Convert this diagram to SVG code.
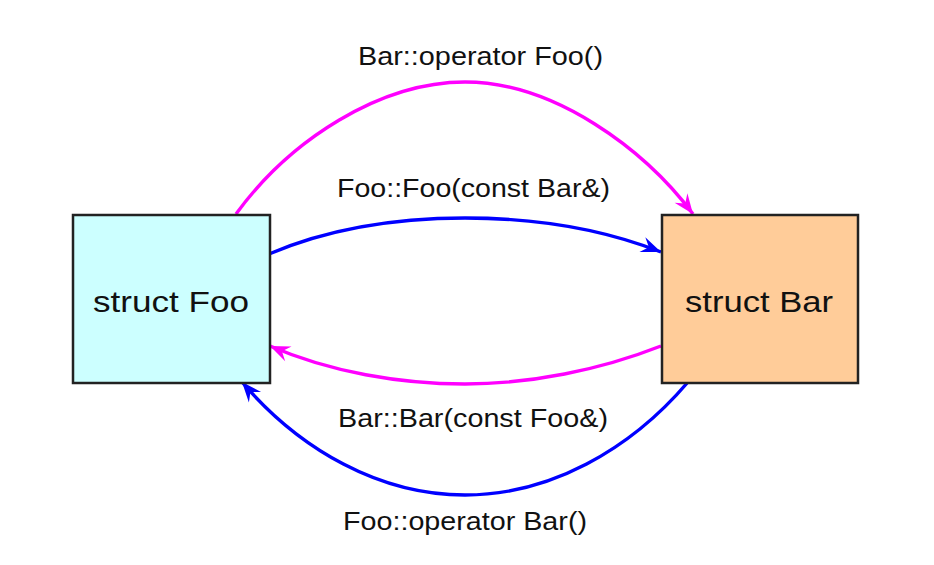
<svg xmlns="http://www.w3.org/2000/svg" width="934" height="565" viewBox="0 0 934 565">
<style>
.node rect{stroke:#222;stroke-width:2.5}
.nl{font-family:"Liberation Sans",Arial,sans-serif;font-size:30px;fill:#111}
.el{font-family:"Liberation Sans",Arial,sans-serif;font-size:26px;fill:#111}
.e{fill:none;stroke-width:3.4}
.m{stroke:#ff00ff}
.b{stroke:#0000ff}
</style>
<defs>
<marker id="am" viewBox="-21 -9 22 18" refX="0" refY="0" markerWidth="22" markerHeight="18" orient="auto" markerUnits="userSpaceOnUse"><path d="M0,0 L-20,-8 L-13,0 L-20,8 Z" fill="#ff00ff"/></marker>
<marker id="ab" viewBox="-21 -9 22 18" refX="0" refY="0" markerWidth="22" markerHeight="18" orient="auto" markerUnits="userSpaceOnUse"><path d="M0,0 L-20,-8 L-13,0 L-20,8 Z" fill="#0000ff"/></marker>
</defs>
<rect width="934" height="565" fill="#fff"/>
<g id="connectors">
<path class="e m" d="M236,214 C290,140 380,82 465,82 C555,82 645,150 693,214" marker-end="url(#am)"/>
<path class="e b" d="M269,254 C330,228 400,218 465,218 C530,218 600,228 661,252" marker-end="url(#ab)"/>
<path class="e m" d="M661,346 C600,370 530,384 465,384 C400,384 330,372 270,346" marker-end="url(#am)"/>
<path class="e b" d="M688,382 C630,450 550,495 465,495 C380,495 300,450 242,382" marker-end="url(#ab)"/>
<text class="el" x="358" y="65" textLength="245" lengthAdjust="spacingAndGlyphs">Bar::operator Foo()</text>
<text class="el" x="337" y="197" textLength="273" lengthAdjust="spacingAndGlyphs">Foo::Foo(const Bar&amp;)</text>
<text class="el" x="338" y="427" textLength="270" lengthAdjust="spacingAndGlyphs">Bar::Bar(const Foo&amp;)</text>
<text class="el" x="343" y="530" textLength="244" lengthAdjust="spacingAndGlyphs">Foo::operator Bar()</text>
</g>
<g id="foo" class="node">
<rect x="73" y="215" width="197" height="168" fill="#ccffff"/>
<text class="nl" x="93" y="312" textLength="156" lengthAdjust="spacingAndGlyphs">struct Foo</text>
</g>
<g id="bar" class="node">
<rect x="662" y="215" width="196" height="168" fill="#ffcc99"/>
<text class="nl" x="685" y="312" textLength="148" lengthAdjust="spacingAndGlyphs">struct Bar</text>
</g>
</svg>
